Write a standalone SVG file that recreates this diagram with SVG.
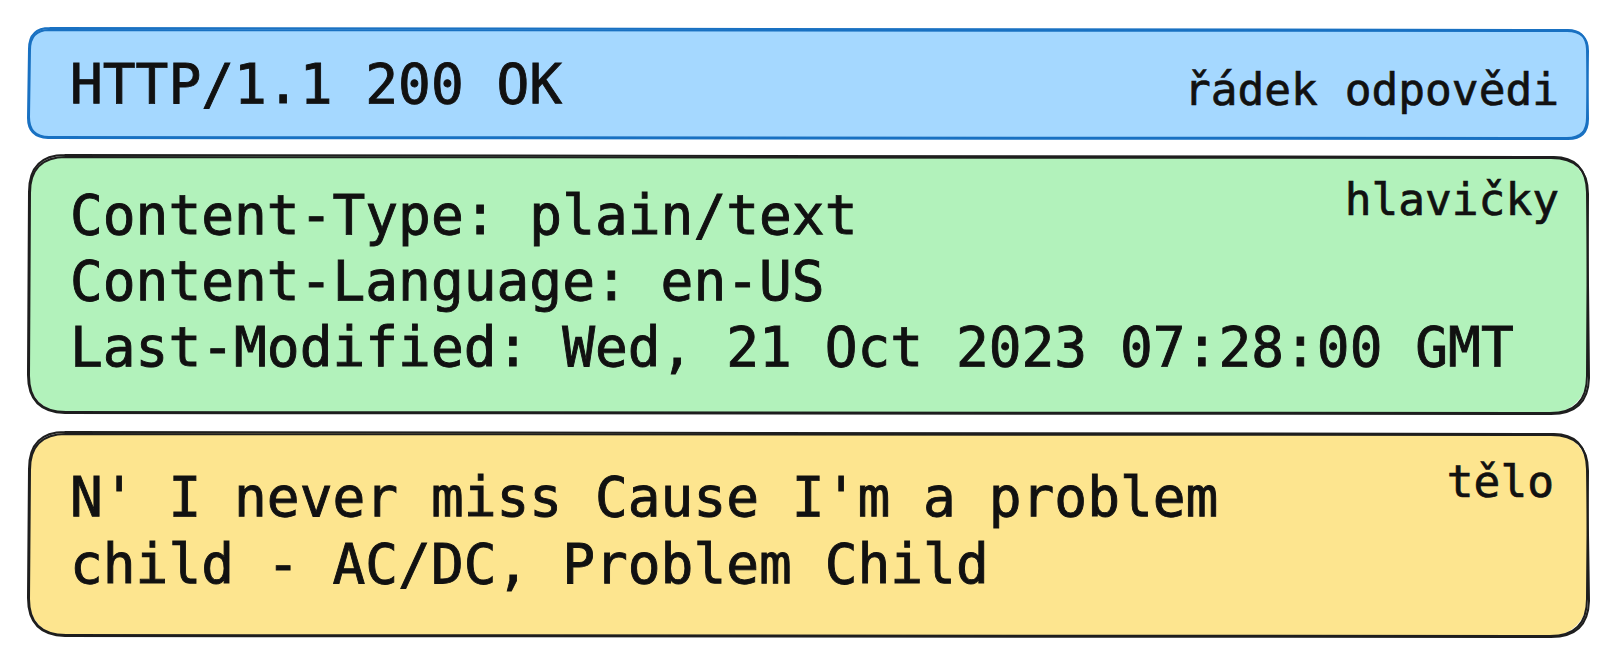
<svg xmlns="http://www.w3.org/2000/svg" width="1608" height="656" viewBox="0 0 1608 656">
  <style>
    .main { font-family: "DejaVu Sans Mono", "Liberation Mono", monospace; font-size: 54.5px; fill: #111111; stroke: #111111; stroke-width: 0.9px; }
    .label { font-family: "DejaVu Sans Mono", "Liberation Mono", monospace; font-size: 44.5px; fill: #111111; stroke: #111111; stroke-width: 0.7px; text-anchor: end; }
    .sk { fill: none; stroke-width: 2; stroke-linecap: round; stroke-linejoin: round; }
  </style>
  <rect width="1608" height="656" fill="#ffffff"/>
  <g id="status-line">
    <rect x="29" y="29" width="1558" height="109" rx="20" fill="#a5d8ff"/>
    <path class="sk" stroke="#1971c2" d="M49 30 L1567 31 Q1588 31 1588 51 L1587 118 Q1587 138 1567 138 L49 137 Q29 137 29 117 L30 50 Q30 30 49 30 Z"/>
    <path class="sk" stroke="#1971c2" d="M50 28 L1566 30 Q1586 29 1587 49 L1588 119 Q1588 139 1568 139 L48 138 Q28 137 28 118 L29 49 Q29 28 50 28"/>
    <text class="main" x="70" y="103">HTTP/1.1 200 OK</text>
    <text class="label" x="1559" y="105">řádek odpovědi</text>
  </g>
  <g id="headers">
    <rect x="29" y="156" width="1558" height="257" rx="36" fill="#b2f2bb"/>
    <path class="sk" stroke="#1e1e1e" d="M66 157 L1551 158 Q1588 158 1588 194 L1587 376 Q1587 413 1550 413 L66 412 Q29 412 29 376 L30 193 Q30 157 66 157 Z"/>
    <path class="sk" stroke="#1e1e1e" d="M65 155 L1552 157 Q1586 156 1587 192 L1589 378 Q1588 414 1551 414 L65 413 Q28 412 28 375 L29 192 Q29 155 65 155"/>
    <text class="main" x="70" y="234">Content-Type: plain/text</text>
    <text class="main" x="70" y="300">Content-Language: en-US</text>
    <text class="main" x="70" y="366">Last-Modified: Wed, 21 Oct 2023 07:28:00 GMT</text>
    <text class="label" x="1559" y="215">hlavičky</text>
  </g>
  <g id="body">
    <rect x="29" y="433" width="1558" height="203" rx="36" fill="#fde58f"/>
    <path class="sk" stroke="#1e1e1e" d="M66 434 L1551 435 Q1588 435 1588 471 L1587 599 Q1587 636 1550 636 L66 635 Q29 635 29 599 L30 470 Q30 434 66 434 Z"/>
    <path class="sk" stroke="#1e1e1e" d="M65 432 L1552 434 Q1586 433 1587 469 L1589 601 Q1588 637 1551 637 L65 636 Q28 635 28 598 L29 469 Q29 432 65 432"/>
    <text class="main" x="70" y="516">N' I never miss Cause I'm a problem</text>
    <text class="main" x="70" y="583">child - AC/DC, Problem Child</text>
    <text class="label" x="1554" y="497">tělo</text>
  </g>
  <g id="connectors"/>
</svg>
